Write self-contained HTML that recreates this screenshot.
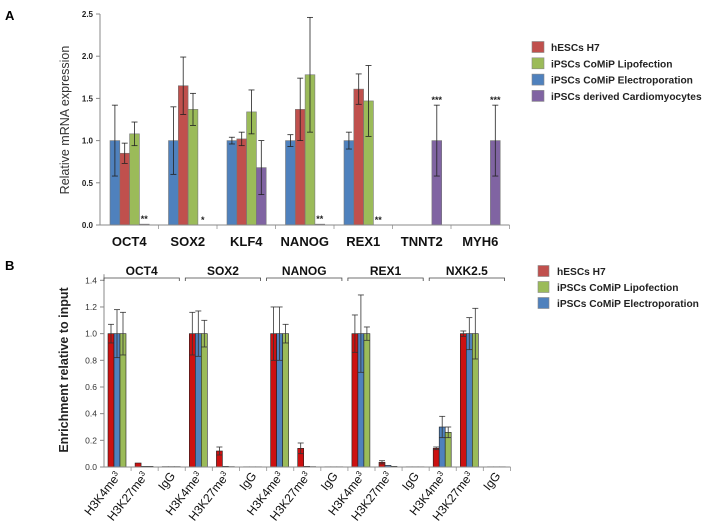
<!DOCTYPE html>
<html><head><meta charset="utf-8"><style>
html,body{margin:0;padding:0;background:#fff;width:707px;height:531px;overflow:hidden}
svg{display:block;font-family:"Liberation Sans",Arial,sans-serif}
</style></head><body>
<svg id="fig" width="707" height="531" viewBox="0 0 707 531" xmlns="http://www.w3.org/2000/svg">
<text x="5" y="20" font-size="13" font-weight="bold">A</text>
<text x="5" y="270" font-size="13" font-weight="bold">B</text>
<text transform="translate(69,120) rotate(-90)" text-anchor="middle" font-size="12.5" fill="#333">Relative mRNA expression</text>
<text transform="translate(68,370) rotate(-90)" text-anchor="middle" font-size="12.5" font-weight="bold" fill="#222">Enrichment relative to input</text>
<g id="ga"></g><g id="gb"></g>
</svg>
<script>
// ---- Panel A data ----
const catsA = ["OCT4","SOX2","KLF4","NANOG","REX1","TNNT2","MYH6"];
const seriesA = ["iPSCs CoMiP Electroporation","hESCs  H7","iPSCs CoMiP Lipofection","iPSCs derived Cardiomyocytes"];
const electroA = [1.0,1.0,1.0,1.0,1.0,0,0];
const h7A = [0.85,1.65,1.02,1.37,1.61,0,0];
const lipoA = [1.08,1.37,1.34,1.78,1.47,0,0];
const cardioA = [0.01,0.0,0.68,0.01,0.0,1.0,1.0];
const electroErrA = [0.42,0.4,0.04,0.07,0.1,0,0];
const h7ErrA = [0.12,0.34,0.08,0.37,0.18,0,0];
const lipoErrA = [0.14,0.19,0.26,0.68,0.42,0,0];
const cardioErrA = [0,0,0.32,0,0,0.42,0.42];
const starsA = ["**","*","","**","**","***","***"];
const ticksA = ["0.0","0.5","1.0","1.5","2.0","2.5"];
// ---- Panel B data ----
const groupsB = ["OCT4","SOX2","NANOG","REX1","NXK2.5"];
const marksB = ["H3K4me","H3K27me","IgG"];
const h7B = [1,0.03,0.003, 1,0.12,0.002, 1,0.14,0.002, 1,0.035,0.002, 0.14,1,0.002];
const electroB = [1,0.005,0.003, 1,0.005,0.002, 1,0.005,0.002, 1,0.012,0.002, 0.3,1,0.002];
const lipoB = [1,0.005,0.003, 1,0.003,0.002, 1,0.003,0.002, 1,0.005,0.002, 0.26,1,0.002];
const h7ErrB = [0.07,0,0, 0.16,0.03,0, 0.2,0.04,0, 0.14,0.012,0, 0.01,0.02,0];
const electroErrB = [0.18,0,0, 0.17,0,0, 0.2,0,0, 0.29,0,0, 0.08,0.12,0];
const lipoErrB = [0.16,0,0, 0.1,0,0, 0.07,0,0, 0.05,0,0, 0.04,0.19,0];
const ticksB = ["0.0","0.2","0.4","0.6","0.8","1.0","1.2","1.4"];

const NS="http://www.w3.org/2000/svg";
function mk(parent,tag,attrs,txt){const e=document.createElementNS(NS,tag);for(const k in attrs)e.setAttribute(k,attrs[k]);if(txt!==undefined)e.textContent=txt;parent.appendChild(e);return e;}

// Panel A
(function(){
  const g=document.getElementById('ga');
  const x0=100,y0=225,ymax=2.5,ph=211,cw=58.5,bw=9.8,off=10;
  const y=v=>y0-v/ymax*ph;
  const cols=["#4f81bd","#c0504d","#9bbb59","#8064a2"];
  const vals=[electroA,h7A,lipoA,cardioA], errs=[electroErrA,h7ErrA,lipoErrA,cardioErrA];
  mk(g,'line',{x1:x0,y1:y(0),x2:x0,y2:y(2.5),stroke:'#888','stroke-width':1});
  ticksA.forEach(t=>{const v=parseFloat(t);
    const tk=mk(g,'line',{x1:x0-4,y1:y(v),x2:x0,y2:y(v),stroke:'#888'});
    
    const l=mk(g,'text',{x:x0-7,y:y(v)+3,'text-anchor':'end','font-size':8,'font-weight':'bold',fill:'#222'},t);
    });
  catsA.forEach((c,i)=>{
    const cx=x0+i*cw;
    for(let s=0;s<4;s++){const v=vals[s][i],e=errs[s][i];const bx=cx+off+s*bw;
      const r=mk(g,'rect',{x:bx,y:y(v),width:bw,height:Math.max(0,y0-y(v)),fill:cols[s],stroke:'#777','stroke-width':0.6});
      
      if(e>0){const m=bx+bw/2;
        mk(g,'line',{x1:m,y1:y(v+e),x2:m,y2:y(Math.max(0,v-e)),stroke:'#222','stroke-width':0.8});
        mk(g,'line',{x1:m-3,y1:y(v+e),x2:m+3,y2:y(v+e),stroke:'#222','stroke-width':0.8});
        mk(g,'line',{x1:m-3,y1:y(Math.max(0,v-e)),x2:m+3,y2:y(Math.max(0,v-e)),stroke:'#222','stroke-width':0.8});}
    }
    if(starsA[i]){const m=cx+off+3*bw+bw/2;const top=cardioA[i]+cardioErrA[i];
      const st=mk(g,'text',{x:m,y:y(top)-2,'text-anchor':'middle','font-size':9,'font-weight':'bold',fill:'#222'},starsA[i]);
      }
    const lb=mk(g,'text',{x:cx+cw/2,y:246,'text-anchor':'middle','font-size':13,'font-weight':'bold',fill:'#111'},c);
    
    mk(g,'line',{x1:cx+cw,y1:y0,x2:cx+cw,y2:y0+4,stroke:'#aaa'});
  });
  mk(g,'line',{x1:x0,y1:y0,x2:x0+catsA.length*cw,y2:y0,stroke:'#888'});
  const leg=[["hESCs  H7","#c0504d"],["iPSCs CoMiP Lipofection","#9bbb59"],["iPSCs CoMiP Electroporation","#4f81bd"],["iPSCs derived Cardiomyocytes","#8064a2"]];
  leg.forEach((l,k)=>{const yy=47+k*16.3;
    const sq=mk(g,'rect',{x:532,y:yy-5.5,width:12,height:11,fill:l[1],stroke:'#888','stroke-width':0.6});
    
    const t=mk(g,'text',{x:551,y:yy+4,'font-size':10.2,'font-weight':'bold',fill:'#222'},l[0]);
    });
})();

// Panel B
(function(){
  const g=document.getElementById('gb');
  const x0=104,y0=467,ph=186.7,ymax=1.4,cw=27.1,bw=6,off=4;
  const y=v=>y0-v/ymax*ph;
  const cols=["#cc1111","#4f81bd","#9bbb59"];
  const vals=[h7B,electroB,lipoB], errs=[h7ErrB,electroErrB,lipoErrB];
  mk(g,'line',{x1:x0,y1:y0,x2:x0,y2:y(1.4)-6,stroke:'#888'});
  ticksB.forEach(t=>{const v=parseFloat(t);
    mk(g,'line',{x1:x0-4,y1:y(v),x2:x0,y2:y(v),stroke:'#888'});
    const l=mk(g,'text',{x:x0-7,y:y(v)+3,'text-anchor':'end','font-size':8.5,fill:'#333'},t);
    });
  const n=groupsB.length*marksB.length;
  for(let i=0;i<n;i++){
    const cx=x0+i*cw;
    for(let s=0;s<3;s++){const v=vals[s][i],e=errs[s][i];const bx=cx+off+s*bw;
      const r=mk(g,'rect',{x:bx,y:y(v),width:bw,height:Math.max(0,y0-y(v)),fill:cols[s],stroke:'#222','stroke-width':0.6});
      
      if(e>0){const m=bx+bw/2;
        mk(g,'line',{x1:m,y1:y(v+e),x2:m,y2:y(Math.max(0,v-e)),stroke:'#333','stroke-width':0.8});
        mk(g,'line',{x1:m-3,y1:y(v+e),x2:m+3,y2:y(v+e),stroke:'#333','stroke-width':0.8});
        mk(g,'line',{x1:m-3,y1:y(Math.max(0,v-e)),x2:m+3,y2:y(Math.max(0,v-e)),stroke:'#333','stroke-width':0.8});}
    }
    mk(g,'line',{x1:cx+cw,y1:y0,x2:cx+cw,y2:y0+4,stroke:'#aaa'});
    const mark=marksB[i%3];
    const lx=cx+cw/2+4, ly=y0+9;
    const t=mk(g,'text',{transform:'translate('+lx+','+ly+') rotate(-52)','text-anchor':'end','font-size':12,fill:'#111'});
    
    t.textContent=mark;
    if(mark!=="IgG"){const sp=document.createElementNS(NS,'tspan');sp.setAttribute('font-size','8');sp.setAttribute('dy','-4');sp.textContent='3';t.appendChild(sp);}
  }
  mk(g,'line',{x1:x0,y1:y0,x2:x0+n*cw,y2:y0,stroke:'#888'});
  groupsB.forEach((gn,k)=>{const gx=x0+k*3*cw;const a=gx,b=gx+3*cw-6;
    const br=mk(g,'path',{d:'M'+a+' 281 V278 H'+b+' V281',fill:'none',stroke:'#444','stroke-width':0.8});
    
    const t=mk(g,'text',{x:(a+b)/2,y:275,'text-anchor':'middle','font-size':12,'font-weight':'bold',fill:'#111'},gn);
    });
  const leg=[["hESCs  H7","#c0504d"],["iPSCs CoMiP Lipofection","#9bbb59"],["iPSCs CoMiP Electroporation","#4f81bd"]];
  leg.forEach((l,k)=>{const yy=271+k*16;
    const sq=mk(g,'rect',{x:538,y:yy-5.5,width:11,height:11,fill:l[1],stroke:'#888','stroke-width':0.6});
    
    const t=mk(g,'text',{x:557,y:yy+4,'font-size':10.2,'font-weight':'bold',fill:'#222'},l[0]);
    });
})();
</script>
</body></html>
